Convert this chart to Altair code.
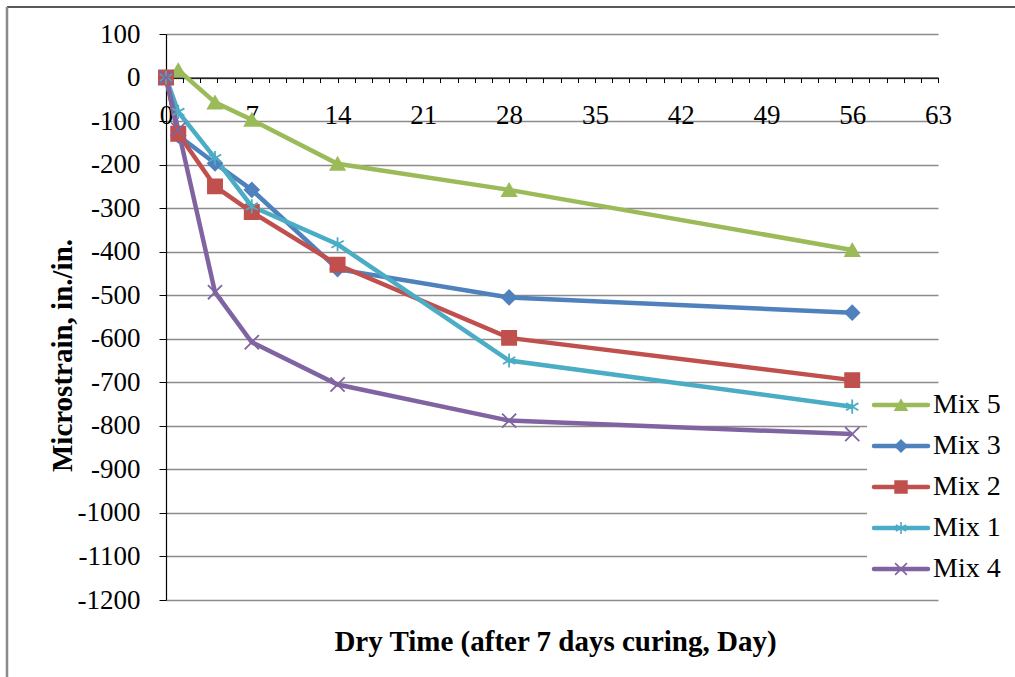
import altair as alt
import pandas as pd

# ---- data ----
days = [0, 1, 4, 7, 14, 28, 56]
series = ["Mix 5", "Mix 3", "Mix 2", "Mix 1", "Mix 4"]
mix5 = [0, 17, -57, -97, -198, -258, -396]
mix3 = [0, -133, -197, -258, -440, -505, -540]
mix2 = [0, -129, -250, -309, -430, -598, -695]
mix1 = [0, -79, -185, -296, -383, -650, -756]
mix4 = [0, -120, -493, -608, -705, -788, -819]
values = [mix5, mix3, mix2, mix1, mix4]

colors = ["#9BBB59", "#4F81BD", "#C0504D", "#4BACC6", "#8064A2"]
shapes = [
    "triangle-up",
    "diamond",
    "square",
    "M0,-1L0,1M-0.87,-0.5L0.87,0.5M-0.87,0.5L0.87,-0.5",
    "M-1,-1L1,1M-1,1L1,-1",
]

x_major = list(range(0, 64, 7))
x_minor = [round(i * 1.4, 1) for i in range(46)]
y_ticks = list(range(-1200, 101, 100))

rows = []
for name, vals in zip(series, values):
    for d, v in zip(days, vals):
        rows.append({"series": name, "day": d, "strain": v})
df = pd.DataFrame(rows)
legend_df = pd.DataFrame({"series": series})
one = pd.DataFrame({"a": [0]})

FONT = "Liberation Serif"
W, H = 772, 566
X_OFF = -H * 1200 / 1300

color = alt.Color("series:N", scale=alt.Scale(domain=series, range=colors), legend=None)
stroke = alt.Stroke("series:N", scale=alt.Scale(domain=series, range=colors), legend=None)
shape = alt.Shape("series:N", scale=alt.Scale(domain=series, range=shapes), legend=None)

xscale = alt.Scale(domain=[0, 63], nice=False, zero=False)
yscale = alt.Scale(domain=[-1200, 100], nice=False, zero=False)

xenc = alt.X(
    "day:Q",
    scale=xscale,
    axis=alt.Axis(
        values=x_major,
        labelOverlap=False,
        labelFlush=False,
        offset=X_OFF,
        orient="bottom",
        grid=False,
        tickSize=5,
        tickColor="black",
        domainColor="black",
        domainWidth=1.2,
        labelFont=FONT,
        labelFontSize=27,
        labelColor="black",
        labelPadding=20,
        title="Dry Time (after 7 days curing, Day)",
        titleFont=FONT,
        titleFontSize=29,
        titleFontWeight="bold",
        titleColor="black",
        titleX=389,
        titleY=564,
        titleAlign="center",
        titleBaseline="middle",
    ),
)

lines = alt.Chart(df).mark_line(strokeWidth=4.5).encode(
    x=xenc,
    y=alt.Y(
        "strain:Q",
        scale=yscale,
        axis=alt.Axis(
            values=y_ticks,
            labelExpr="'' + datum.value",
            grid=True,
            gridColor="#8c8c8c",
            gridWidth=1.3,
            tickSize=7,
            tickColor="black",
            domainColor="black",
            domainWidth=1.2,
            labelFont=FONT,
            labelFontSize=27,
            labelColor="black",
            labelPadding=19,
            title="Microstrain, in./in.",
            titleFont=FONT,
            titleFontSize=29,
            titleFontWeight="bold",
            titleColor="black",
            titleX=-104,
            titleY=321,
            titleAngle=-90,
            titleAlign="center",
            titleBaseline="middle",
        ),
    ),
    color=color,
    detail="series:N",
)

# minor ticks on the x axis (no labels)
minor = alt.Chart(one).mark_point(opacity=0).encode(
    x=alt.X(
        "a:Q",
        scale=xscale,
        axis=alt.Axis(
            values=x_minor,
            labels=False,
            domain=False,
            grid=False,
            orient="bottom",
            offset=X_OFF,
            tickSize=5,
            tickColor="black",
            title=None,
        ),
    ),
    y=alt.Y("a:Q", scale=yscale, axis=None),
)

points = alt.Chart(df).mark_point(filled=True, size=200, strokeWidth=1.8, opacity=1).encode(
    x=alt.X("day:Q", scale=xscale, axis=None),
    y=alt.Y("strain:Q", scale=yscale, axis=None),
    color=color,
    stroke=stroke,
    shape=shape,
)

leg_scale = alt.Scale(type="point", domain=series, range=[371, 535], padding=0)

leg_bg = alt.Chart(one).mark_rect(fill="white").encode(
    x=alt.value(701), x2=alt.value(852), y=alt.value(350), y2=alt.value(558)
)
leg_rule = alt.Chart(legend_df).mark_rule(strokeWidth=4.5, strokeCap="round").encode(
    x=alt.value(708), x2=alt.value(762),
    y=alt.Y("series:N", scale=leg_scale, axis=None),
    color=color,
)
leg_pt = alt.Chart(legend_df).mark_point(filled=True, size=140, strokeWidth=1.6, opacity=1).encode(
    x=alt.value(735),
    y=alt.Y("series:N", scale=leg_scale, axis=None),
    color=color,
    stroke=stroke,
    shape=shape,
)
leg_txt = alt.Chart(legend_df).mark_text(
    align="left", baseline="middle", font=FONT, fontSize=28, color="black"
).encode(
    x=alt.value(767),
    y=alt.Y("series:N", scale=leg_scale, axis=None),
    text="series:N",
)

border_top = alt.Chart(one).mark_rule(color="#222222", strokeWidth=1.5).encode(
    x=alt.value(-159), x2=alt.value(860), y=alt.value(-27)
)
border_left = alt.Chart(one).mark_rule(color="#8a8a8a", strokeWidth=2.5).encode(
    x=alt.value(-159), y=alt.value(-27), y2=alt.value(660)
)

chart = (
    alt.layer(lines, minor, points, leg_bg, leg_rule, leg_pt, leg_txt, border_top, border_left)
    .resolve_scale(y="independent")
    .resolve_axis(x="independent")
    .properties(
        width=W,
        height=H,
        autosize="none",
        padding={"left": 166, "top": 34, "right": 77, "bottom": 77},
        background="white",
    )
    .configure_view(stroke=None)
)

chart.save("out.html", embed_options={"renderer": "svg", "actions": False})
